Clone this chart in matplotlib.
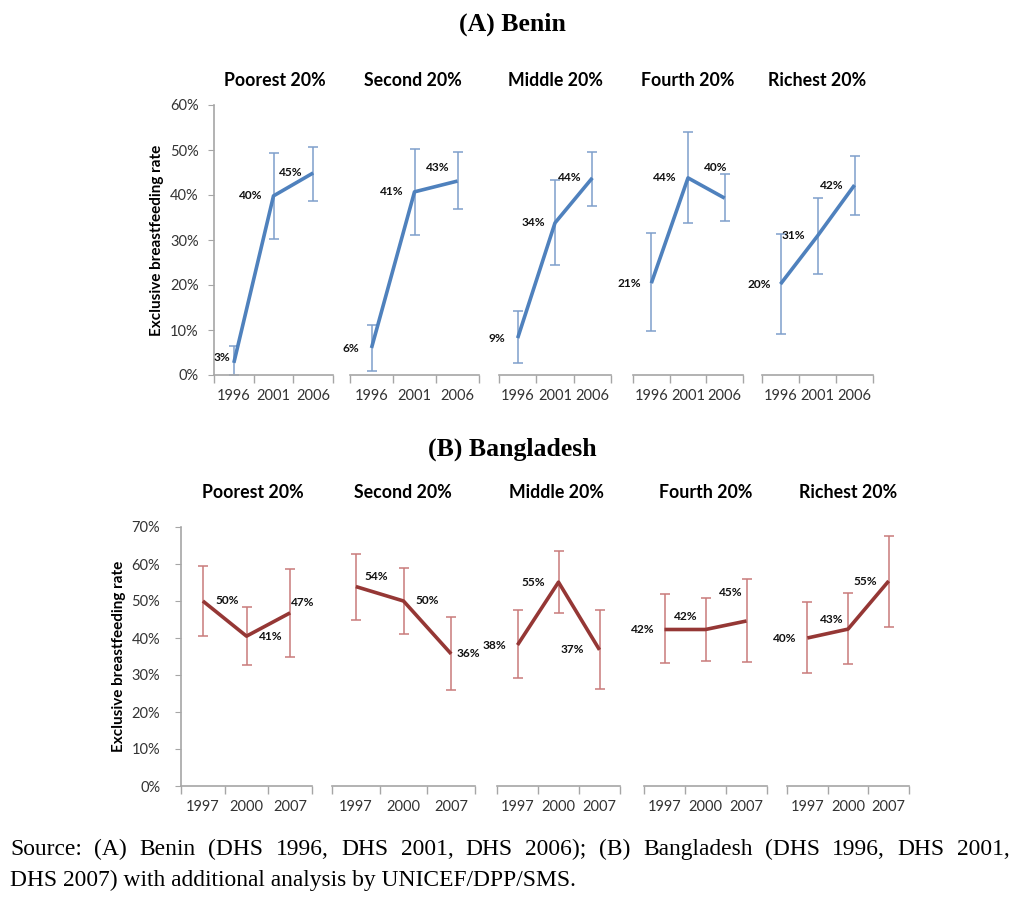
import matplotlib.pyplot as plt

groups = ['Poorest 20%', 'Second 20%', 'Middle 20%', 'Fourth 20%', 'Richest 20%']

benin_years = ['1996', '2001', '2006']
benin_rate = [[2.7, 39.8, 44.9], [6.0, 40.7, 43.1], [8.2, 33.8, 43.8],
              [20.4, 43.8, 39.3], [20.2, 30.9, 42.2]]
benin_low = [[0.0, 30.2, 38.7], [0.9, 31.1, 36.9], [2.7, 24.4, 37.6],
             [9.8, 33.8, 34.2], [9.1, 22.4, 35.6]]
benin_high = [[6.4, 49.3, 50.6], [11.1, 50.3, 49.6], [14.3, 43.3, 49.6],
              [31.5, 54.0, 44.7], [31.3, 39.3, 48.7]]
benin_text = [['3%', '40%', '45%'], ['6%', '41%', '43%'], ['9%', '34%', '44%'],
              ['21%', '44%', '40%'], ['20%', '31%', '42%']]

bang_years = ['1997', '2000', '2007']
bang_rate = [[50.0, 40.5, 46.8], [53.9, 50.0, 35.7], [38.1, 55.1, 36.8],
             [42.3, 42.3, 44.6], [40.0, 42.4, 55.4]]
bang_low = [[40.5, 32.7, 34.9], [44.9, 41.1, 25.9], [29.2, 46.8, 26.2],
            [33.2, 33.8, 33.5], [30.5, 33.0, 43.0]]
bang_high = [[59.5, 48.4, 58.6], [62.7, 58.9, 45.7], [47.6, 63.5, 47.6],
             [51.8, 50.8, 56.0], [49.7, 52.2, 67.6]]
bang_text = [['50%', '41%', '47%'], ['54%', '50%', '36%'], ['38%', '55%', '37%'],
             ['42%', '42%', '45%'], ['40%', '43%', '55%']]

source_1 = 'Source: (A) Benin (DHS 1996, DHS 2001, DHS 2006); (B) Bangladesh (DHS 1996, DHS 2001,'
source_2 = 'DHS 2007) with additional analysis by UNICEF/DPP/SMS.'

# label placement: (dx px, dy px up, ha)
benin_pos = [[(-4, 5, 'right'), (-11, 0, 'right'), (-11, 0, 'right')],
             [(-12, 0, 'right'), (-11, 0, 'right'), (-8, 14, 'right')],
             [(-12, 0, 'right'), (-10, 0, 'right'), (-11, 0, 'right')],
             [(-10, 0, 'right'), (-11, 0, 'right'), (-9, 31, 'center')],
             [(-10, 0, 'right'), (-12, 0, 'right'), (-11, 0, 'right')]]
bang_pos = [[(13, 0, 'left'), (12, 0, 'left'), (1, 10, 'left')],
            [(9, 10, 'left'), (12, 0, 'left'), (5, 0, 'left')],
            [(-11, 0, 'right'), (-13, 0, 'right'), (-15, 0, 'right')],
            [(-10, 0, 'right'), (-20, 13, 'center'), (-16, 28, 'center')],
            [(-11, 0, 'right'), (-16, 10, 'center'), (-12, 0, 'right')]]

W, H = 1024, 898
fig = plt.figure(figsize=(W / 100, H / 100), dpi=100)
plt.rcParams['font.family'] = ['Lato', 'DejaVu Sans']

grey = '#a6a6a6'


def add_row(xs, y0, y1, ymax, years, rate, low, high, text, pos, line_c, err_c, tick_pad):
    for i, (xa, xb) in enumerate(xs):
        ax = fig.add_axes([xa / W, 1 - y1 / H, (xb - xa) / W, (y1 - y0) / H])
        x = [0, 1, 2]
        yerr = [[r - l for r, l in zip(rate[i], low[i])],
                [h - r for r, h in zip(rate[i], high[i])]]
        ax.errorbar(x, rate[i], yerr=yerr, fmt='none', ecolor=err_c, elinewidth=1.1,
                    capsize=3.5, capthick=1.1, zorder=2)
        ax.plot(x, rate[i], color=line_c, lw=2.6, zorder=3, solid_capstyle='butt')
        for j in range(3):
            dx, dy, ha = pos[i][j]
            ax.annotate(text[i][j], (x[j], rate[i][j]), xytext=(dx, dy),
                        textcoords='offset pixels', ha=ha, va='center',
                        fontsize=8.6, fontweight='bold', color='#111111', zorder=4,
                        annotation_clip=False)
        ax.set_xlim(-0.5, 2.5)
        ax.set_ylim(0, ymax)
        ax.set_xticks([-0.5, 0.5, 1.5, 2.5])
        ax.set_xticklabels([])
        ax.set_xticks([0, 1, 2], minor=True)
        ax.set_xticklabels(years, minor=True)
        ax.tick_params(axis='x', which='major', direction='out', length=6,
                       color=grey, width=1)
        ax.tick_params(axis='x', which='minor', length=0, pad=10,
                       labelsize=10.5, labelcolor='#333333')
        for s in ['top', 'right']:
            ax.spines[s].set_visible(False)
        ax.spines['bottom'].set_color(grey)
        ax.spines['bottom'].set_linewidth(1.2)
        if i == 0:
            ax.spines['left'].set_color(grey)
            ax.spines['left'].set_linewidth(1.2)
            ax.set_yticks(range(0, ymax + 1, 10))
            ax.set_yticklabels(['%d%%' % v for v in range(0, ymax + 1, 10)])
            ax.tick_params(axis='y', direction='out', length=4, color=grey,
                           labelsize=10.5, labelcolor='#333333', pad=tick_pad)
            ax.set_ylabel('Exclusive breastfeeding rate', fontsize=11,
                          fontweight='bold', labelpad=4)
        else:
            ax.spines['left'].set_visible(False)
            ax.set_yticks([])
        ax.patch.set_alpha(0)


top_x = [(214, 333), (350, 479), (499, 611), (633, 743), (762, 873)]
bot_x = [(181, 312), (332, 475), (497, 620), (644, 767), (787, 909)]

add_row(top_x, 105, 375, 60, benin_years, benin_rate, benin_low, benin_high,
        benin_text, benin_pos, '#4f81bd', '#7f9fcb', 7)
add_row(bot_x, 527, 786, 70, bang_years, bang_rate, bang_low, bang_high,
        bang_text, bang_pos, '#953735', '#c97b7a', 11)

top_title_x = [275, 413, 555, 688, 817]
bot_title_x = [253, 403, 556, 706, 848]
for g, tx in zip(groups, top_title_x):
    fig.text(tx / W, 1 - 80 / H, g, ha='center', va='center', fontsize=12.8,
             fontweight='bold')
for g, tx in zip(groups, bot_title_x):
    fig.text(tx / W, 1 - 492 / H, g, ha='center', va='center', fontsize=12.8,
             fontweight='bold')

serif = ['Liberation Serif', 'DejaVu Serif']
fig.text(512 / W, 1 - 24 / H, '(A) Benin', ha='center', va='center',
         fontsize=18.5, fontweight='bold', family=serif)
fig.text(512 / W, 1 - 449 / H, '(B) Bangladesh', ha='center', va='center',
         fontsize=18.5, fontweight='bold', family=serif)

# first source line is justified across the figure width
renderer = fig.canvas.get_renderer()
words = source_1.split(' ')
objs = [fig.text(0, 1 - 855 / H, w, ha='left', va='baseline', fontsize=16.9,
                 family=serif) for w in words]
widths = [o.get_window_extent(renderer).width for o in objs]
gap = (1010 - 10 - sum(widths)) / (len(words) - 1)
xpos = 10
for o, w in zip(objs, widths):
    o.set_x(xpos / W)
    xpos += w + gap
fig.text(10 / W, 1 - 886 / H, source_2, ha='left', va='baseline', fontsize=16.9,
         family=serif)

fig.savefig('out.png', dpi=100)
